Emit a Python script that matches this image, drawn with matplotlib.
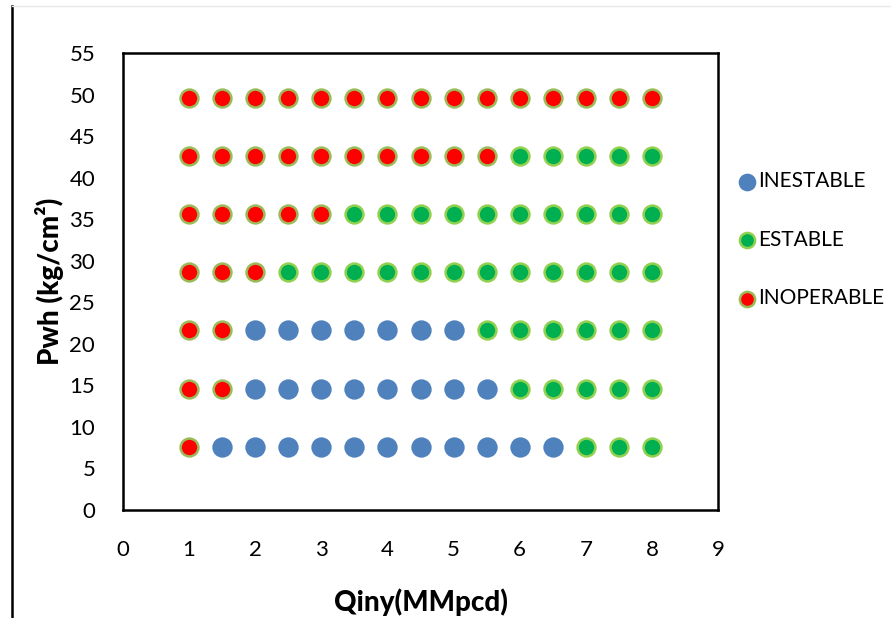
import matplotlib.pyplot as plt
from matplotlib.lines import Line2D

# flow rate grid (MMpcd) and wellhead pressure rows (kg/cm2)
q_values = [1, 1.5, 2, 2.5, 3, 3.5, 4, 4.5, 5, 5.5, 6, 6.5, 7, 7.5, 8]
pwh_rows = [7.6, 14.6, 21.6, 28.6, 35.6, 42.6, 49.6]

# state of each point, row by row (I = inestable, E = estable, X = inoperable)
states = [
    "XIIIIIIIIIIIEEE",
    "XXIIIIIIIIEEEEE",
    "XXIIIIIIIEEEEEE",
    "XXXEEEEEEEEEEEE",
    "XXXXXEEEEEEEEEE",
    "XXXXXXXXXXEEEEE",
    "XXXXXXXXXXXXXXX",
]

series = {
    "I": ("INESTABLE", "#4F81BD", "#4F81BD"),
    "E": ("ESTABLE", "#00B050", "#92D050"),
    "X": ("INOPERABLE", "#FF0000", "#9BBB59"),
}

plt.rcParams['font.family'] = ['Lato', 'DejaVu Sans']

fig = plt.figure(figsize=(8.91, 6.18), dpi=100)
ax = fig.add_axes([0.138, 0.175, 0.668, 0.739])

for key, (label, face, edge) in series.items():
    xs, ys = [], []
    for pwh, row in zip(pwh_rows, states):
        for q, s in zip(q_values, row):
            if s == key:
                xs.append(q)
                ys.append(pwh)
    ax.scatter(xs, ys, s=165, c=face, edgecolors=edge, linewidths=1.8, label=label, zorder=3)

ax.set_xlim(0, 9)
ax.set_ylim(0, 55)
ax.set_xticks(range(0, 10))
ax.set_yticks(range(0, 56, 5))
ax.tick_params(length=0, labelsize=16)
ax.tick_params(axis="x", pad=22)
ax.tick_params(axis="y", pad=20)
for sp in ax.spines.values():
    sp.set_linewidth(1.8)
    sp.set_color("black")

ax.set_xlabel("Qiny(MMpcd)", fontsize=20, fontweight="black", labelpad=20)
ax.set_ylabel("Pwh (kg/cm²)", fontsize=20, fontweight="black", labelpad=4)

fig.legend(loc="upper left", bbox_to_anchor=(0.815, 0.74), frameon=False,
           fontsize=15, labelspacing=1.85, handletextpad=0.05, markerscale=0.85,
           borderpad=0, handlelength=1.0)

# outer frame lines
fig.add_artist(Line2D([0.0135, 0.0135], [0.0, 0.99], color="black", lw=1.8))
fig.add_artist(Line2D([0.0135, 1.0], [0.99, 0.99], color="#e8e8e8", lw=1))

fig.savefig("out.png", dpi=100)
